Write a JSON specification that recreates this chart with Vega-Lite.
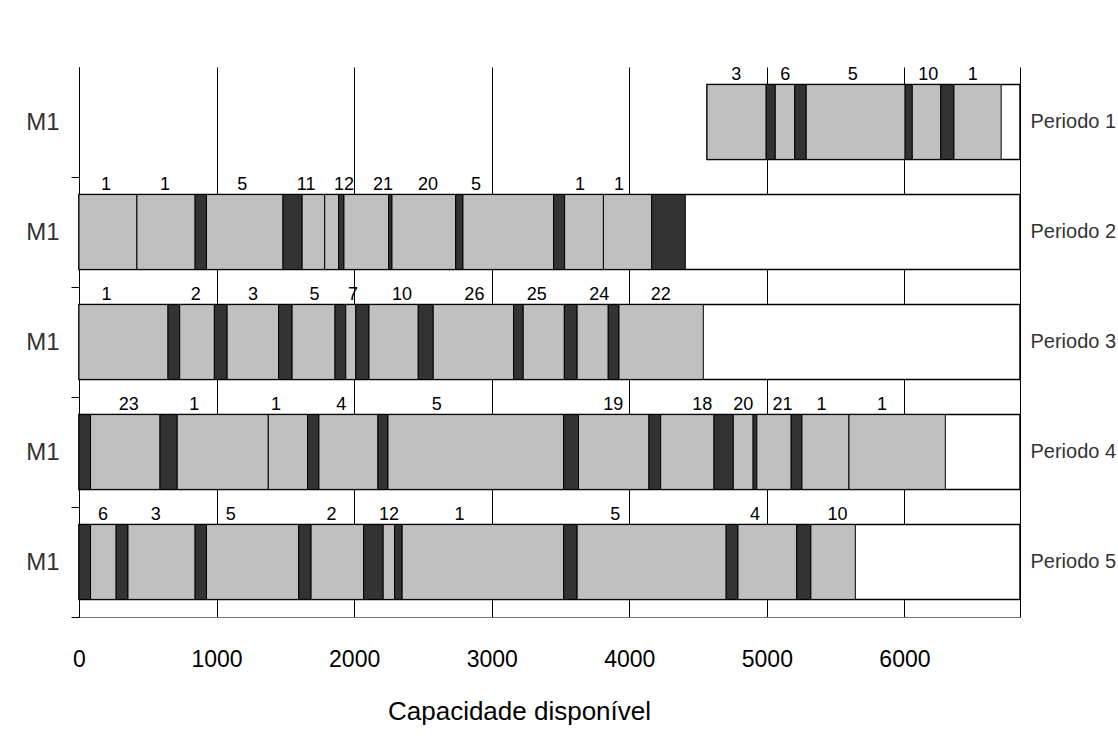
{
  "$schema": "https://vega.github.io/schema/vega-lite/v6.json",
  "width": 941,
  "height": 550,
  "autosize": {"type": "none"},
  "padding": {"left": 79, "top": 67, "right": 98, "bottom": 123},
  "background": "white",
  "config": {"view": {"stroke": null}, "font": "Liberation Sans"},
  "datasets": {
    "molduras": [
      {"periodo": "Periodo 1", "inicio": 4565, "fim": 6840},
      {"periodo": "Periodo 2", "inicio": 0, "fim": 6840},
      {"periodo": "Periodo 3", "inicio": 0, "fim": 6840},
      {"periodo": "Periodo 4", "inicio": 0, "fim": 6840},
      {"periodo": "Periodo 5", "inicio": 0, "fim": 6840}
    ],
    "segmentos": [
      {"periodo": "Periodo 1", "tipo": "tarefa", "inicio": 4565, "fim": 4995},
      {"periodo": "Periodo 1", "tipo": "setup", "inicio": 4995, "fim": 5061},
      {"periodo": "Periodo 1", "tipo": "tarefa", "inicio": 5061, "fim": 5203},
      {"periodo": "Periodo 1", "tipo": "setup", "inicio": 5203, "fim": 5286},
      {"periodo": "Periodo 1", "tipo": "tarefa", "inicio": 5286, "fim": 6005},
      {"periodo": "Periodo 1", "tipo": "setup", "inicio": 6005, "fim": 6057},
      {"periodo": "Periodo 1", "tipo": "tarefa", "inicio": 6057, "fim": 6264},
      {"periodo": "Periodo 1", "tipo": "setup", "inicio": 6264, "fim": 6360},
      {"periodo": "Periodo 1", "tipo": "tarefa", "inicio": 6360, "fim": 6703},

      {"periodo": "Periodo 2", "tipo": "tarefa", "inicio": 0, "fim": 421},
      {"periodo": "Periodo 2", "tipo": "tarefa", "inicio": 421, "fim": 844},
      {"periodo": "Periodo 2", "tipo": "setup", "inicio": 844, "fim": 927},
      {"periodo": "Periodo 2", "tipo": "tarefa", "inicio": 927, "fim": 1483},
      {"periodo": "Periodo 2", "tipo": "setup", "inicio": 1483, "fim": 1622},
      {"periodo": "Periodo 2", "tipo": "tarefa", "inicio": 1622, "fim": 1786},
      {"periodo": "Periodo 2", "tipo": "tarefa", "inicio": 1786, "fim": 1887},
      {"periodo": "Periodo 2", "tipo": "setup", "inicio": 1887, "fim": 1926},
      {"periodo": "Periodo 2", "tipo": "tarefa", "inicio": 1926, "fim": 2251},
      {"periodo": "Periodo 2", "tipo": "setup", "inicio": 2251, "fim": 2275},
      {"periodo": "Periodo 2", "tipo": "tarefa", "inicio": 2275, "fim": 2738},
      {"periodo": "Periodo 2", "tipo": "setup", "inicio": 2738, "fim": 2791},
      {"periodo": "Periodo 2", "tipo": "tarefa", "inicio": 2791, "fim": 3450},
      {"periodo": "Periodo 2", "tipo": "setup", "inicio": 3450, "fim": 3530},
      {"periodo": "Periodo 2", "tipo": "tarefa", "inicio": 3530, "fim": 3812},
      {"periodo": "Periodo 2", "tipo": "tarefa", "inicio": 3812, "fim": 4163},
      {"periodo": "Periodo 2", "tipo": "setup", "inicio": 4163, "fim": 4407},

      {"periodo": "Periodo 3", "tipo": "tarefa", "inicio": 0, "fim": 647},
      {"periodo": "Periodo 3", "tipo": "setup", "inicio": 647, "fim": 732},
      {"periodo": "Periodo 3", "tipo": "tarefa", "inicio": 732, "fim": 984},
      {"periodo": "Periodo 3", "tipo": "setup", "inicio": 984, "fim": 1077},
      {"periodo": "Periodo 3", "tipo": "tarefa", "inicio": 1077, "fim": 1451},
      {"periodo": "Periodo 3", "tipo": "setup", "inicio": 1451, "fim": 1549},
      {"periodo": "Periodo 3", "tipo": "tarefa", "inicio": 1549, "fim": 1861},
      {"periodo": "Periodo 3", "tipo": "setup", "inicio": 1861, "fim": 1939},
      {"periodo": "Periodo 3", "tipo": "tarefa", "inicio": 1939, "fim": 2012},
      {"periodo": "Periodo 3", "tipo": "setup", "inicio": 2012, "fim": 2108},
      {"periodo": "Periodo 3", "tipo": "tarefa", "inicio": 2108, "fim": 2466},
      {"periodo": "Periodo 3", "tipo": "setup", "inicio": 2466, "fim": 2575},
      {"periodo": "Periodo 3", "tipo": "tarefa", "inicio": 2575, "fim": 3159},
      {"periodo": "Periodo 3", "tipo": "setup", "inicio": 3159, "fim": 3229},
      {"periodo": "Periodo 3", "tipo": "tarefa", "inicio": 3229, "fim": 3528},
      {"periodo": "Periodo 3", "tipo": "setup", "inicio": 3528, "fim": 3621},
      {"periodo": "Periodo 3", "tipo": "tarefa", "inicio": 3621, "fim": 3847},
      {"periodo": "Periodo 3", "tipo": "setup", "inicio": 3847, "fim": 3925},
      {"periodo": "Periodo 3", "tipo": "tarefa", "inicio": 3925, "fim": 4538},

      {"periodo": "Periodo 4", "tipo": "setup", "inicio": 0, "fim": 84},
      {"periodo": "Periodo 4", "tipo": "tarefa", "inicio": 84, "fim": 589},
      {"periodo": "Periodo 4", "tipo": "setup", "inicio": 589, "fim": 714},
      {"periodo": "Periodo 4", "tipo": "tarefa", "inicio": 714, "fim": 1376},
      {"periodo": "Periodo 4", "tipo": "tarefa", "inicio": 1376, "fim": 1661},
      {"periodo": "Periodo 4", "tipo": "setup", "inicio": 1661, "fim": 1744},
      {"periodo": "Periodo 4", "tipo": "tarefa", "inicio": 1744, "fim": 2173},
      {"periodo": "Periodo 4", "tipo": "setup", "inicio": 2173, "fim": 2246},
      {"periodo": "Periodo 4", "tipo": "tarefa", "inicio": 2246, "fim": 3523},
      {"periodo": "Periodo 4", "tipo": "setup", "inicio": 3523, "fim": 3631},
      {"periodo": "Periodo 4", "tipo": "tarefa", "inicio": 3631, "fim": 4143},
      {"periodo": "Periodo 4", "tipo": "setup", "inicio": 4143, "fim": 4228},
      {"periodo": "Periodo 4", "tipo": "tarefa", "inicio": 4228, "fim": 4616},
      {"periodo": "Periodo 4", "tipo": "setup", "inicio": 4616, "fim": 4756},
      {"periodo": "Periodo 4", "tipo": "tarefa", "inicio": 4756, "fim": 4900},
      {"periodo": "Periodo 4", "tipo": "setup", "inicio": 4900, "fim": 4927},
      {"periodo": "Periodo 4", "tipo": "tarefa", "inicio": 4927, "fim": 5177},
      {"periodo": "Periodo 4", "tipo": "setup", "inicio": 5177, "fim": 5255},
      {"periodo": "Periodo 4", "tipo": "tarefa", "inicio": 5255, "fim": 5597},
      {"periodo": "Periodo 4", "tipo": "tarefa", "inicio": 5597, "fim": 6297},

      {"periodo": "Periodo 5", "tipo": "setup", "inicio": 0, "fim": 84},
      {"periodo": "Periodo 5", "tipo": "tarefa", "inicio": 84, "fim": 270},
      {"periodo": "Periodo 5", "tipo": "setup", "inicio": 270, "fim": 356},
      {"periodo": "Periodo 5", "tipo": "tarefa", "inicio": 356, "fim": 844},
      {"periodo": "Periodo 5", "tipo": "setup", "inicio": 844, "fim": 927},
      {"periodo": "Periodo 5", "tipo": "tarefa", "inicio": 927, "fim": 1597},
      {"periodo": "Periodo 5", "tipo": "setup", "inicio": 1597, "fim": 1687},
      {"periodo": "Periodo 5", "tipo": "tarefa", "inicio": 1687, "fim": 2069},
      {"periodo": "Periodo 5", "tipo": "setup", "inicio": 2069, "fim": 2211},
      {"periodo": "Periodo 5", "tipo": "tarefa", "inicio": 2211, "fim": 2294},
      {"periodo": "Periodo 5", "tipo": "setup", "inicio": 2294, "fim": 2349},
      {"periodo": "Periodo 5", "tipo": "tarefa", "inicio": 2349, "fim": 3523},
      {"periodo": "Periodo 5", "tipo": "setup", "inicio": 3523, "fim": 3621},
      {"periodo": "Periodo 5", "tipo": "tarefa", "inicio": 3621, "fim": 4704},
      {"periodo": "Periodo 5", "tipo": "setup", "inicio": 4704, "fim": 4790},
      {"periodo": "Periodo 5", "tipo": "tarefa", "inicio": 4790, "fim": 5217},
      {"periodo": "Periodo 5", "tipo": "setup", "inicio": 5217, "fim": 5320},
      {"periodo": "Periodo 5", "tipo": "tarefa", "inicio": 5320, "fim": 5643}
    ],
    "rotulos": [
      {"periodo": "Periodo 1", "pos": 4777, "rotulo": "3"},
      {"periodo": "Periodo 1", "pos": 5134, "rotulo": "6"},
      {"periodo": "Periodo 1", "pos": 5625, "rotulo": "5"},
      {"periodo": "Periodo 1", "pos": 6173, "rotulo": "10"},
      {"periodo": "Periodo 1", "pos": 6496, "rotulo": "1"},

      {"periodo": "Periodo 2", "pos": 197, "rotulo": "1"},
      {"periodo": "Periodo 2", "pos": 626, "rotulo": "1"},
      {"periodo": "Periodo 2", "pos": 1186, "rotulo": "5"},
      {"periodo": "Periodo 2", "pos": 1651, "rotulo": "11"},
      {"periodo": "Periodo 2", "pos": 1927, "rotulo": "12"},
      {"periodo": "Periodo 2", "pos": 2210, "rotulo": "21"},
      {"periodo": "Periodo 2", "pos": 2537, "rotulo": "20"},
      {"periodo": "Periodo 2", "pos": 2886, "rotulo": "5"},
      {"periodo": "Periodo 2", "pos": 3642, "rotulo": "1"},
      {"periodo": "Periodo 2", "pos": 3925, "rotulo": "1"},

      {"periodo": "Periodo 3", "pos": 200, "rotulo": "1"},
      {"periodo": "Periodo 3", "pos": 849, "rotulo": "2"},
      {"periodo": "Periodo 3", "pos": 1265, "rotulo": "3"},
      {"periodo": "Periodo 3", "pos": 1711, "rotulo": "5"},
      {"periodo": "Periodo 3", "pos": 1991, "rotulo": "7"},
      {"periodo": "Periodo 3", "pos": 2348, "rotulo": "10"},
      {"periodo": "Periodo 3", "pos": 2874, "rotulo": "26"},
      {"periodo": "Periodo 3", "pos": 3328, "rotulo": "25"},
      {"periodo": "Periodo 3", "pos": 3782, "rotulo": "24"},
      {"periodo": "Periodo 3", "pos": 4228, "rotulo": "22"},

      {"periodo": "Periodo 4", "pos": 362, "rotulo": "23"},
      {"periodo": "Periodo 4", "pos": 837, "rotulo": "1"},
      {"periodo": "Periodo 4", "pos": 1432, "rotulo": "1"},
      {"periodo": "Periodo 4", "pos": 1907, "rotulo": "4"},
      {"periodo": "Periodo 4", "pos": 2601, "rotulo": "5"},
      {"periodo": "Periodo 4", "pos": 3884, "rotulo": "19"},
      {"periodo": "Periodo 4", "pos": 4530, "rotulo": "18"},
      {"periodo": "Periodo 4", "pos": 4828, "rotulo": "20"},
      {"periodo": "Periodo 4", "pos": 5113, "rotulo": "21"},
      {"periodo": "Periodo 4", "pos": 5397, "rotulo": "1"},
      {"periodo": "Periodo 4", "pos": 5837, "rotulo": "1"},

      {"periodo": "Periodo 5", "pos": 174, "rotulo": "6"},
      {"periodo": "Periodo 5", "pos": 558, "rotulo": "3"},
      {"periodo": "Periodo 5", "pos": 1103, "rotulo": "5"},
      {"periodo": "Periodo 5", "pos": 1835, "rotulo": "2"},
      {"periodo": "Periodo 5", "pos": 2254, "rotulo": "12"},
      {"periodo": "Periodo 5", "pos": 2765, "rotulo": "1"},
      {"periodo": "Periodo 5", "pos": 3898, "rotulo": "5"},
      {"periodo": "Periodo 5", "pos": 4914, "rotulo": "4"},
      {"periodo": "Periodo 5", "pos": 5514, "rotulo": "10"}
    ]
  },
  "layer": [
    {
      "data": {"name": "molduras"},
      "mark": {"type": "bar", "fill": "white", "stroke": "black", "strokeWidth": 1.5},
      "encoding": {
        "y": {
          "field": "periodo",
          "type": "nominal",
          "scale": {"paddingInner": 0.32, "paddingOuter": 0.16},
          "axis": {
            "orient": "left",
            "title": null,
            "labelExpr": "'M1'",
            "tickOffset": 55,
            "labelOffset": -55,
            "tickSize": 8,
            "tickColor": "black",
            "domainColor": "black",
            "labelPadding": 12,
            "labelFontSize": 24,
            "labelColor": "#333333",
            "grid": false
          }
        },
        "x": {
          "field": "inicio",
          "type": "quantitative",
          "title": "Capacidade disponível",
          "scale": {"domain": [0, 6840], "nice": false},
          "axis": {
            "values": [0, 1000, 2000, 3000, 4000, 5000, 6000],
            "format": "d",
            "grid": true,
            "gridColor": "black",
            "gridOpacity": 1,
            "gridWidth": 1,
            "ticks": false,
            "domainColor": "#777777",
            "labelFlush": false,
            "labelPadding": 31,
            "labelFontSize": 23,
            "labelColor": "black",
            "titleFontSize": 26,
            "titleFontWeight": "normal",
            "titleColor": "black",
            "titleX": 440,
            "titleAlign": "center",
            "titlePadding": 27
          }
        },
        "x2": {"field": "fim"}
      }
    },
    {
      "data": {"name": "segmentos"},
      "mark": {"type": "bar", "stroke": "black", "strokeWidth": 1},
      "encoding": {
        "y": {
          "field": "periodo",
          "type": "nominal",
          "axis": {
            "orient": "right",
            "title": null,
            "ticks": false,
            "domainColor": "black",
            "labelPadding": 10,
            "labelFontSize": 20,
            "labelColor": "#333333",
            "grid": false
          }
        },
        "x": {"field": "inicio", "type": "quantitative", "title": "Capacidade disponível"},
        "x2": {"field": "fim"},
        "fill": {
          "field": "tipo",
          "type": "nominal",
          "scale": {"domain": ["tarefa", "setup"], "range": ["#c0c0c0", "#333333"]},
          "legend": null
        }
      }
    },
    {
      "data": {"name": "rotulos"},
      "mark": {"type": "text", "baseline": "alphabetic", "dy": -5, "fontSize": 18, "color": "black"},
      "encoding": {
        "y": {"field": "periodo", "type": "nominal", "bandPosition": 0, "axis": null},
        "x": {"field": "pos", "type": "quantitative", "title": "Capacidade disponível"},
        "text": {"field": "rotulo"}
      }
    }
  ],
  "resolve": {"axis": {"y": "independent"}}
}
